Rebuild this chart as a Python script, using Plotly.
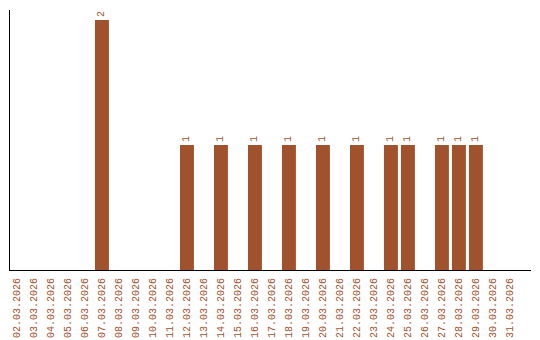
import plotly.graph_objects as go

dates = [f"{d:02d}.03.2026" for d in range(2, 32)]
counts_map = {"07.03.2026": 2, "12.03.2026": 1, "14.03.2026": 1, "16.03.2026": 1,
              "18.03.2026": 1, "20.03.2026": 1, "22.03.2026": 1, "24.03.2026": 1,
              "25.03.2026": 1, "27.03.2026": 1, "28.03.2026": 1, "29.03.2026": 1}
values = [counts_map.get(d, 0) for d in dates]
labels = [str(v) if v else "" for v in values]

color = "#A0522D"
font_family = "Liberation Mono"

fig = go.Figure(go.Bar(
    x=list(range(len(dates))), y=values, text=labels,
    textposition="outside", textangle=-90, cliponaxis=False,
    textfont=dict(family=font_family, size=10, color=color),
    marker=dict(color=color, line=dict(width=0)), width=0.82,
))
fig.update_layout(
    width=540, height=340, margin=dict(l=10, r=9, t=10, b=70, autoexpand=False),
    paper_bgcolor="white", plot_bgcolor="white", showlegend=False,
    font=dict(family=font_family, size=10, color=color),
)
fig.update_xaxes(
    tickmode="array", tickvals=list(range(len(dates))), ticktext=dates,
    tickangle=-90, range=[-0.41, 30.24], showline=True, linecolor="black", linewidth=1,
    showgrid=False, zeroline=False, ticks="outside", ticklen=3, tickcolor="rgba(0,0,0,0)",
    tickfont=dict(family=font_family, size=10, color=color), automargin=False,
)
fig.update_yaxes(
    range=[0, 2.08], showline=True, linecolor="black", linewidth=1,
    showgrid=False, zeroline=False, showticklabels=False, ticks="", automargin=False,
)
fig.write_html("out.html")
